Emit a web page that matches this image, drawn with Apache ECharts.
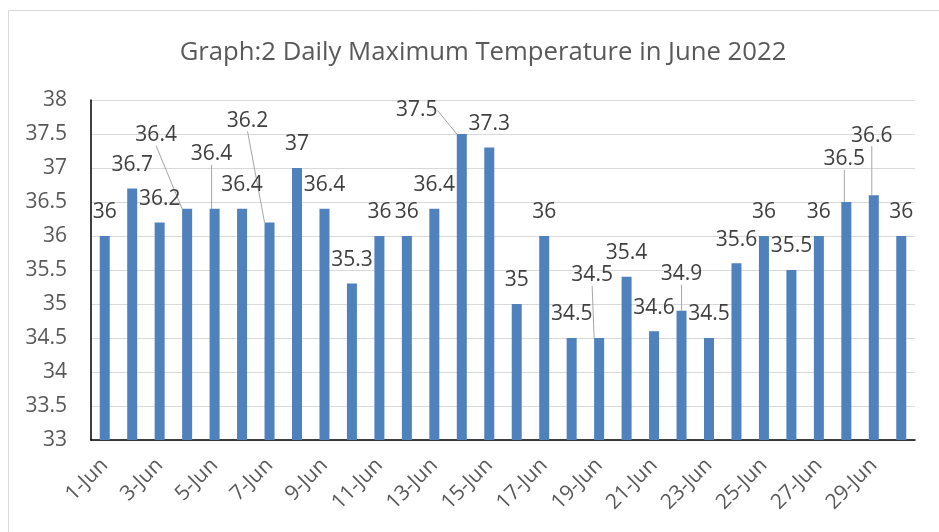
<!DOCTYPE html>
<html>
<head>
<meta charset="utf-8">
<script src="https://cdn.jsdelivr.net/npm/echarts@6/dist/echarts.min.js"></script>
<style>
html,body{margin:0;padding:0;background:#fff;}
#chart{width:939px;height:532px;}
</style>
</head>
<body>
<div id="chart"></div>
<script>
const categories = ['1-Jun','2-Jun','3-Jun','4-Jun','5-Jun','6-Jun','7-Jun','8-Jun','9-Jun','10-Jun',
  '11-Jun','12-Jun','13-Jun','14-Jun','15-Jun','16-Jun','17-Jun','18-Jun','19-Jun','20-Jun',
  '21-Jun','22-Jun','23-Jun','24-Jun','25-Jun','26-Jun','27-Jun','28-Jun','29-Jun','30-Jun'];
const maxTemp = [36, 36.7, 36.2, 36.4, 36.4, 36.4, 36.2, 37, 36.4, 35.3,
  36, 36, 36.4, 37.5, 37.3, 35, 36, 34.5, 34.5, 35.4,
  34.6, 34.9, 34.5, 35.6, 36, 35.5, 36, 36.5, 36.6, 36];
const titleText = 'Graph:2 Daily Maximum Temperature in June 2022';

// label displacement (px) for labels drawn with leader lines
const labelShift = {3: [-31, -50], 4: [-3, -31], 6: [-22, -78], 13: [-45, 0],
  18: [-7, -39], 21: [0, -13], 27: [-2, -19], 28: [-2, -36]};

const FONT = '"Open Sans", sans-serif';
const chart = echarts.init(document.getElementById('chart'), null, {renderer: 'canvas'});
chart.setOption({
  animation: false,
  backgroundColor: '#fff',
  graphic: [{
    type: 'rect', shape: {x: 8.5, y: 10.5, width: 940, height: 540},
    style: {fill: 'none', stroke: '#d9d9d9', lineWidth: 1}, silent: true, z: -1
  }],
  title: {
    text: titleText, left: 478, top: 35, textAlign: 'center',
    textStyle: {fontFamily: FONT, fontSize: 25.7, fontWeight: 'normal', color: '#595959'}
  },
  grid: {left: 91, right: 24, top: 100, bottom: 92, containLabel: false},
  xAxis: {
    type: 'category', data: categories,
    axisLine: {lineStyle: {color: '#000', width: 1.5}},
    axisTick: {show: false},
    axisLabel: {interval: 1, rotate: 45, fontFamily: FONT, fontSize: 21, color: '#595959', margin: 22}
  },
  yAxis: {
    type: 'value', min: 33, max: 38, interval: 0.5,
    axisLine: {show: true, lineStyle: {color: '#000', width: 1.5}},
    axisTick: {show: false},
    splitLine: {lineStyle: {color: '#d9d9d9', width: 1}},
    axisLabel: {fontFamily: FONT, fontSize: 21, color: '#595959', margin: 24}
  },
  series: [{
    type: 'bar',
    data: maxTemp.map((v, i) => labelShift[i] ? {value: v, labelLine: {show: true}} : v),
    barWidth: 10,
    itemStyle: {color: '#4f81bd'},
    label: {show: true, position: 'top', distance: 13, fontFamily: FONT, fontSize: 21, color: '#404040'},
    labelLine: {show: false, lineStyle: {color: '#a6a6a6', width: 1}},
    labelLayout: function (p) {
      const s = labelShift[p.dataIndex];
      return s ? {dx: s[0], dy: s[1]} : {};
    }
  }]
});
</script>
</body>
</html>
